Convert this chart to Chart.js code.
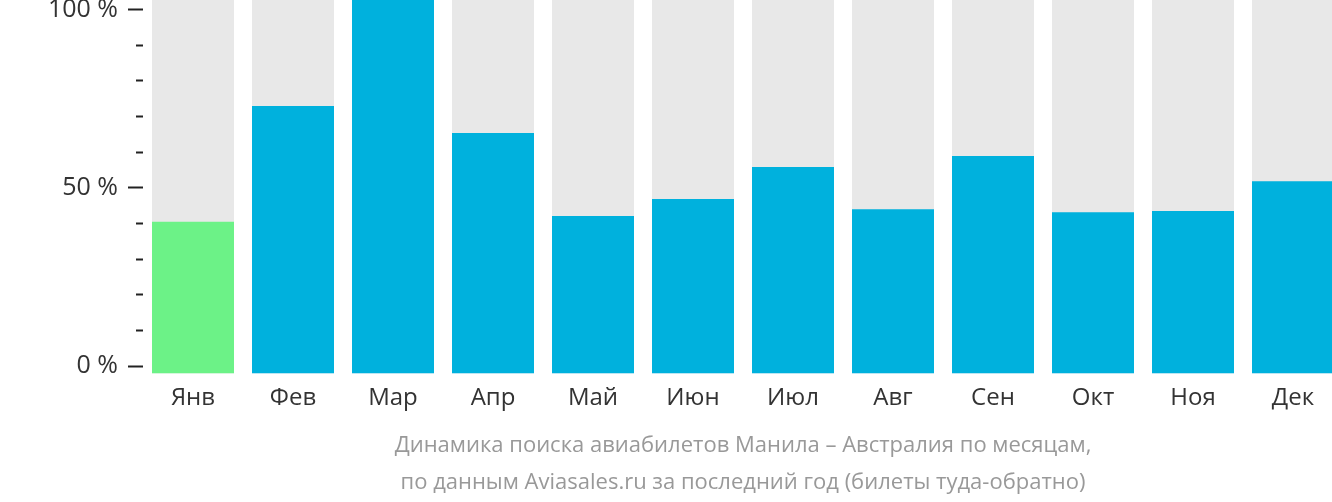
<!DOCTYPE html>
<html>
<head>
<meta charset="utf-8">
<script src="https://cdn.jsdelivr.net/npm/chart.js@4"></script>
<style>
  html, body { margin: 0; padding: 0; background: #fff; overflow: hidden; }
  body { width: 1332px; height: 502px; position: relative; }
  #wrap { position: absolute; left: 0; top: -23px; }
  #caption {
    position: absolute; left: 343px; top: 424.5px; width: 800px;
    text-align: center; font-family: "Open Sans", sans-serif; font-size: 22px;
    line-height: 37px; color: #999999; white-space: nowrap;
  }
</style>
</head>
<body>
<div id="wrap"><canvas id="searchChart" width="1343" height="525"></canvas></div>
<div id="caption"></div>
<script>
// ========== Data ==========
const months = ["Янв", "Фев", "Мар", "Апр", "Май", "Июн", "Июл", "Авг", "Сен", "Окт", "Ноя", "Дек"];
const searchShare = [40.6, 71.6, 100, 64.4, 42.2, 46.7, 55.3, 44.0, 58.2, 43.2, 43.5, 51.5];
const fullShare = [100, 100, 100, 100, 100, 100, 100, 100, 100, 100, 100, 100];
const barColors = ["#6cf287", "#00b1dd", "#00b1dd", "#00b1dd", "#00b1dd", "#00b1dd",
                   "#00b1dd", "#00b1dd", "#00b1dd", "#00b1dd", "#00b1dd", "#00b1dd"];
const yTickValues = [0, 10, 20, 30, 40, 50, 60, 70, 80, 90, 100];
const yLabelValues = [0, 50, 100];
const captionLines = [
  "Динамика поиска авиабилетов Манила – Австралия по месяцам,",
  "по данным Aviasales.ru за последний год (билеты туда-обратно)"
];

// caption under the bars (centred on the plot area)
const caption = document.getElementById("caption");
captionLines.forEach(line => {
  const div = document.createElement("div");
  div.textContent = line;
  caption.appendChild(div);
});

// ========== Chart ==========
const ctx = document.getElementById("searchChart").getContext("2d");
new Chart(ctx, {
  type: "bar",
  data: {
    labels: months,
    datasets: [
      {
        data: searchShare,
        backgroundColor: barColors,
        order: 1,
        grouped: false,
        yAxisID: "y"
      },
      {
        data: fullShare,
        backgroundColor: "#e8e8e8",
        order: 2,
        grouped: false,
        yAxisID: "y"
      }
    ]
  },
  options: {
    responsive: false,
    animation: false,
    datasets: { bar: { barPercentage: 0.82, categoryPercentage: 1 } },
    layout: { padding: { top: 0, left: 0, right: 0, bottom: 77.5 } },
    plugins: {
      legend: { display: false },
      tooltip: { enabled: false }
    },
    scales: {
      x: {
        grid: { display: false, drawTicks: false },
        border: { display: false },
        ticks: {
          color: "#333333",
          padding: 10,
          font: { family: "'Open Sans'", size: 24 }
        },
        afterFit: s => { s.height = 51; }
      },
      y: {
        display: false,
        min: 0,
        max: 100
      },
      // separate axis for the tick marks: they sit slightly inside the bar range
      yt: {
        position: "left",
        min: -2.1,
        max: 102.66,
        afterBuildTicks: s => { s.ticks = yTickValues.map(v => ({ value: v })); },
        afterFit: s => { s.width = 143; },
        grid: {
          drawOnChartArea: false,
          tickLength: 15,
          tickWidth: 2,
          tickColor: "#222222",
          tickBorderDash: c => (c.tick && c.tick.value % 50 === 0) ? [] : [0, 8, 20]
        },
        border: { display: false },
        ticks: {
          color: "#333333",
          padding: 10,
          font: { family: "'Open Sans'", size: 25, lineHeight: 1.04 },
          callback: v => yLabelValues.includes(v) ? v + " %" : ""
        }
      }
    }
  }
});
</script>
</body>
</html>
